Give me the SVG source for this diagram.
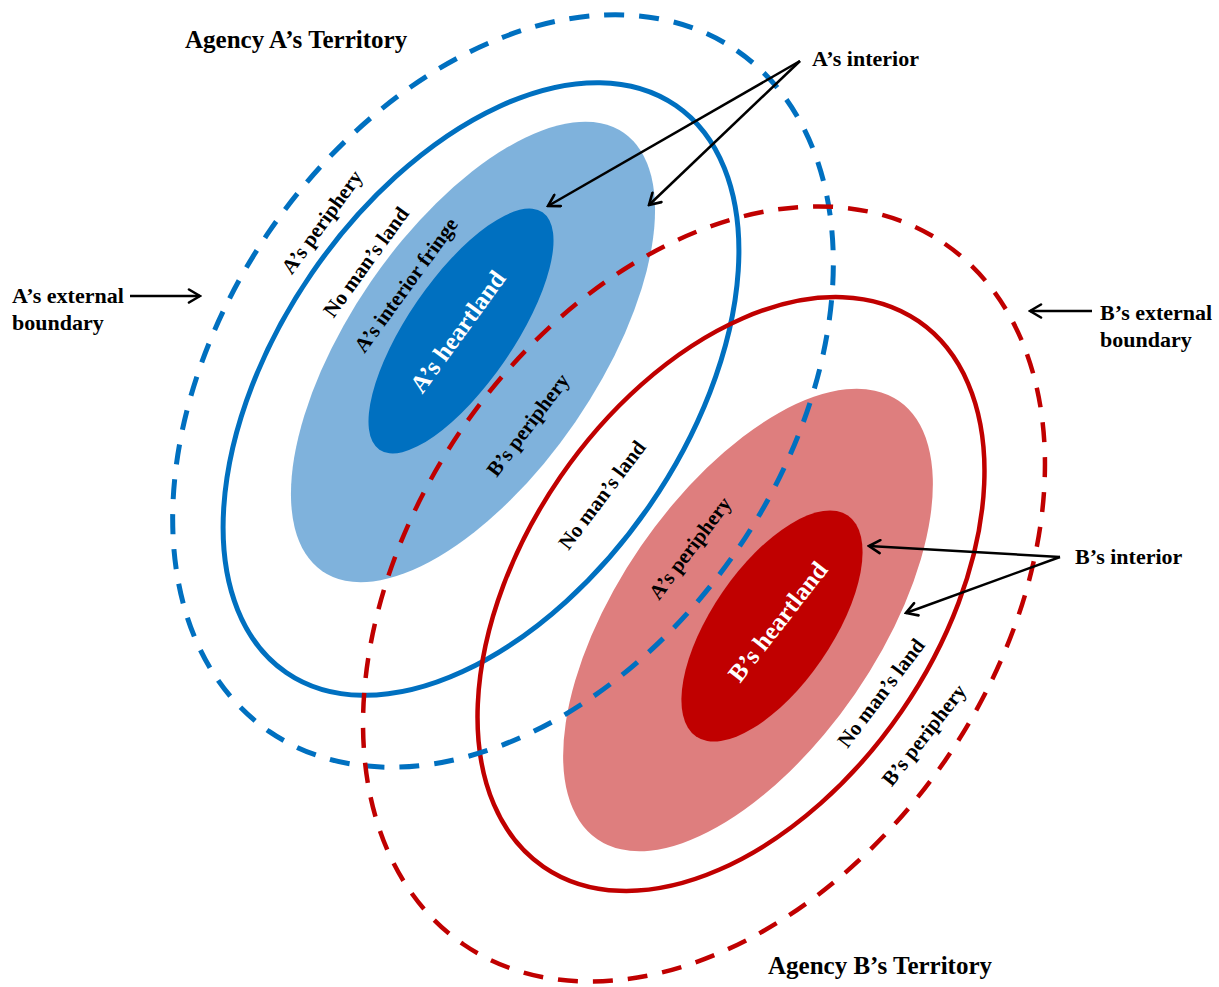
<svg xmlns="http://www.w3.org/2000/svg" width="1219" height="987" viewBox="0 0 1219 987">
  <defs>
    <style>
      .lbl { font-family: "Liberation Serif", "Times New Roman", serif; font-weight: bold; fill: #000; }
      .in { font-size: 21px; text-anchor: middle; }
      .heart { font-size: 25px; text-anchor: middle; fill: #fff; }
      .call { font-size: 22px; }
      .title { font-size: 25px; }
      .a-line { fill: none; stroke: #0070C0; stroke-width: 5; }
      .b-line { fill: none; stroke: #C00000; stroke-width: 4.5; }
      .dash { stroke-dasharray: 20 15; }
      .conn { fill: none; stroke: #000; stroke-width: 2.5; marker-end: url(#arr); }
    </style>
    <marker id="arr" viewBox="0 0 16 16" refX="14" refY="8" markerWidth="16" markerHeight="16" orient="auto" markerUnits="userSpaceOnUse">
      <path d="M3,1.5 L14,8 L3,14.5" fill="none" stroke="#000" stroke-width="2.6" stroke-linecap="round" stroke-linejoin="miter"/>
    </marker>
  </defs>

  <rect width="1219" height="987" fill="#fff"/>

  <!-- filled zones: interiors and heartlands -->
  <g id="a-interior">
    <ellipse cx="473" cy="352" rx="266" ry="124" transform="rotate(-55.5 473 352)" fill="#7FB2DC"/>
  </g>
  <g id="a-heartland">
    <ellipse cx="461" cy="331" rx="144" ry="53" transform="rotate(-55.5 461 331)" fill="#0070C0"/>
  </g>
  <g id="b-interior">
    <ellipse cx="748" cy="620" rx="266" ry="130" transform="rotate(-55.5 748 620)" fill="#DE7E7E"/>
  </g>
  <g id="b-heartland">
    <ellipse cx="772" cy="626" rx="134" ry="60" transform="rotate(-55.5 772 626)" fill="#C00000"/>
  </g>

  <!-- boundaries -->
  <g id="a-boundary">
    <ellipse class="a-line" cx="481" cy="389" rx="344" ry="205" transform="rotate(-55.5 481 389)"/>
  </g>
  <g id="b-boundary">
    <ellipse class="b-line" cx="731" cy="594" rx="331" ry="207" transform="rotate(-55.5 731 594)"/>
  </g>
  <g id="a-external">
    <ellipse class="a-line dash" cx="503" cy="391" rx="413" ry="283" transform="rotate(-55.5 503 391)"/>
  </g>
  <g id="b-external">
    <ellipse class="b-line dash" cx="704" cy="594" rx="425" ry="293" transform="rotate(-55.5 704 594)"/>
  </g>

  <!-- zone labels -->
  <g id="zone-labels" class="lbl">
    <text class="in" transform="translate(322 222) rotate(-54)" y="7">A’s periphery</text>
    <text class="in" transform="translate(366 262) rotate(-54)" y="7">No man’s land</text>
    <text class="in" transform="translate(406 285) rotate(-54)" y="7">A’s interior fringe</text>
    <text class="heart" transform="translate(458 332) rotate(-54)" y="8">A’s heartland</text>
    <text class="in" transform="translate(528 425) rotate(-53)" y="7">B’s periphery</text>
    <text class="in" transform="translate(602 495) rotate(-53)" y="7">No man’s land</text>
    <text class="in" transform="translate(690 548) rotate(-53)" y="7">A’s periphery</text>
    <text class="heart" transform="translate(778 622) rotate(-52)" y="8">B’s heartland</text>
    <text class="in" transform="translate(881 693) rotate(-53)" y="7">No man’s land</text>
    <text class="in" transform="translate(924 735) rotate(-52)" y="7">B’s periphery</text>
  </g>

  <!-- callout labels -->
  <g id="titles" class="lbl">
    <text class="title" x="185" y="48">Agency A’s Territory</text>
    <text class="title" x="768" y="974">Agency B’s Territory</text>
  </g>
  <g id="a-interior-callout" class="lbl">
    <text class="call" x="812" y="66">A’s interior</text>
  </g>
  <g id="a-external-callout" class="lbl">
    <text class="call" x="12" y="303">A’s external</text>
    <text class="call" x="12" y="330">boundary</text>
  </g>
  <g id="b-external-callout" class="lbl">
    <text class="call" x="1100" y="320">B’s external</text>
    <text class="call" x="1100" y="347">boundary</text>
  </g>
  <g id="b-interior-callout" class="lbl">
    <text class="call" x="1075" y="564">B’s interior</text>
  </g>

  <!-- connectors -->
  <g id="connectors">
    <line class="conn" x1="800" y1="61" x2="548" y2="206"/>
    <line class="conn" x1="800" y1="61" x2="649" y2="205"/>
    <line class="conn" x1="130" y1="296" x2="200" y2="296"/>
    <line class="conn" x1="1092" y1="311" x2="1030" y2="311"/>
    <line class="conn" x1="1060" y1="557" x2="869" y2="546"/>
    <line class="conn" x1="1060" y1="557" x2="906" y2="613"/>
  </g>
</svg>
